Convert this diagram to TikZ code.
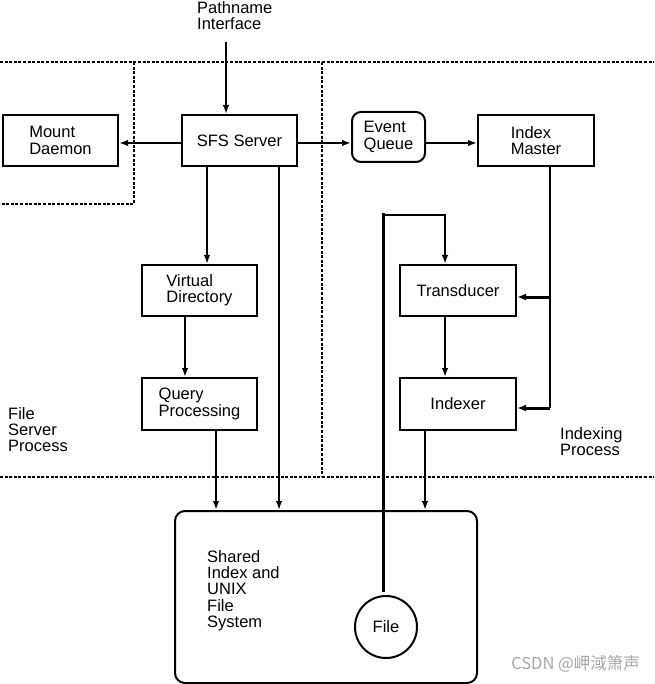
\documentclass[tikz,border=0pt]{standalone}
\usepackage{fontspec}
\setmainfont{Liberation Sans}
\newfontfamily\cjkwm{Noto Sans CJK SC}
\usetikzlibrary{arrows.meta,calc}
\begin{document}
\begin{tikzpicture}[x=1pt,y=-1pt,
  font=\fontsize{16.5}{16.4}\selectfont,
  boxnode/.style={draw,line width=2pt,minimum width=115pt,minimum height=51pt,align=left,inner sep=0pt},
  conn/.style={line width=1.8pt,-{Latex[length=9pt,width=6.5pt]}},
  thickconn/.style={line width=3pt,-{Latex[length=9pt,width=7pt]}},
  plain/.style={line width=1.8pt},
  dotline/.style={line width=1.6pt,dash pattern=on 3pt off 1.6pt},
  txt/.style={align=left,inner sep=0pt,anchor=north west}]
\useasboundingbox (0,0) rectangle (654,684);

% process boundaries
\draw[dotline] (0,62) -- (654,62);
\draw[dotline] (134,62) -- (134,204) -- (0,204);
\draw[dotline] (322,62) -- (322,477);
\draw[dotline] (0,477) -- (654,477);

% nodes
\node[boxnode] (mount) at (60.5,140.5) {Mount\\Daemon};
\node[boxnode] (sfs) at (239.5,140.5) {SFS Server};
\node[boxnode,rounded corners=9pt,minimum width=73pt,minimum height=50pt] (eq) at (388.5,137) {Event\\Queue};
\node[boxnode,minimum width=116pt] (im) at (536,140.5) {Index\\Master};
\node[boxnode] (vd) at (199.5,290.5) {Virtual\\Directory};
\node[boxnode,minimum height=52pt] (qp) at (199.5,404) {Query\\Processing};
\node[boxnode,minimum width=116pt] (tr) at (458,290.5) {Transducer};
\node[boxnode,minimum width=116pt,minimum height=52pt] (ix) at (458,404) {Indexer};
\node[draw,line width=2pt,rounded corners=10pt,minimum width=302pt,minimum height=172pt] (shared) at (326,597) {};
\node[draw,circle,line width=2pt,minimum size=62pt,inner sep=0pt] (file) at (386,627) {File};

% labels
\node[txt] (pn) at (197,1) {Pathname\\Interface};
\node[txt] (fsp) at (8,407) {File\\Server\\Process};
\node[txt] (ixp) at (560,427) {Indexing\\Process};
\node[txt] (shtxt) at (207,550) {Shared\\Index and\\UNIX\\File\\System};
\node[text=black!35,font=\cjkwm\fontsize{16.5}{16.5}\selectfont,anchor=east,inner sep=0pt] (wm) at (640,664) {CSDN @岬淢箫声};

% helper coordinates
\coordinate (pin) at (226,42);
\coordinate (hy) at (0,143);
\coordinate (xa) at (207,0);
\coordinate (xb) at (279,0);
\coordinate (xc) at (185,0);
\coordinate (xd) at (216,0);
\coordinate (xe) at (445,0);
\coordinate (xf) at (425,0);
\coordinate (xg) at (550,0);
\coordinate (xl) at (383,0);
\coordinate (yl) at (0,215);
\coordinate (yb1) at (0,297);
\coordinate (yb2) at (0,408);

% connectors
\draw[conn] (pin) -- (pin |- sfs.north);
\draw[conn] (sfs.west |- hy) -- (mount.east |- hy);
\draw[conn] (sfs.east |- hy) -- (eq.west |- hy);
\draw[conn] (eq.east |- hy) -- (im.west |- hy);
\draw[conn] (sfs.south -| xa) -- (vd.north -| xa);
\draw[conn] (sfs.south -| xb) -- (shared.north -| xb);
\draw[conn] (vd.south -| xc) -- (qp.north -| xc);
\draw[conn] (qp.south -| xd) -- (shared.north -| xd);
\draw[conn] (tr.south -| xe) -- (ix.north -| xe);
\draw[conn] (ix.south -| xf) -- (shared.north -| xf);
\draw[plain] (im.south -| xg) -- (xg |- yb2);
\draw[thickconn] (xg |- yb1) -- (tr.east |- yb1);
\draw[thickconn] (xg |- yb2) -- (ix.east |- yb2);
\draw[conn] (xl |- yl) -- (xe |- yl) -- (tr.north -| xe);
\draw[line width=3pt,line cap=rect] ($(file.north -| xl)+(0,-5)$) -- (xl |- yl);
\end{tikzpicture}
\end{document}
